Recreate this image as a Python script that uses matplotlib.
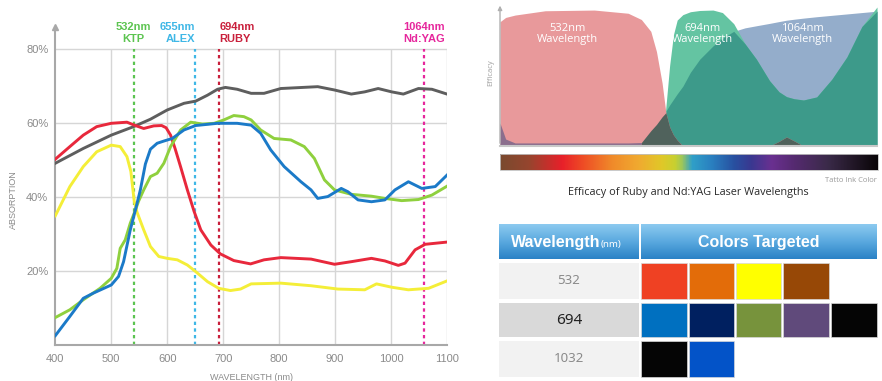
import matplotlib.pyplot as plt
import numpy as np
from matplotlib.colors import LinearSegmentedColormap
from matplotlib.patches import Rectangle

plt.rcParams['font.family'] = ['Liberation Sans', 'DejaVu Sans']

# ---------------------------------------------------------
# DATA - absorption curves (wavelength nm, absorption %)
# ---------------------------------------------------------
gray_nm = [400, 450, 500, 540, 570, 600, 630, 651, 672, 690, 704, 725, 750, 773, 803,
           869, 899, 929, 953, 977, 1001, 1022, 1049, 1073, 1100]
gray_pct = [49.2, 53.2, 56.8, 59.1, 61.1, 63.6, 65.4, 66.0, 67.6, 69.2, 69.7, 69.2, 68.1,
            68.1, 69.4, 69.9, 69.0, 67.9, 68.5, 69.4, 68.5, 67.9, 69.4, 69.2, 67.9]

red_nm = [400, 426, 450, 474, 500, 528, 543, 558, 576, 590, 598, 606, 614, 624, 636, 648,
          660, 678, 695, 719, 749, 773, 803, 857, 899, 929, 965, 989, 1013, 1025, 1043,
          1061, 1100]
red_pct = [50.3, 53.7, 56.8, 59.1, 60.0, 60.3, 59.4, 58.6, 59.3, 59.4, 58.8, 56.8, 53.2,
           48.2, 42.0, 36.2, 31.2, 27.1, 24.7, 22.9, 22.0, 23.1, 23.7, 23.3, 21.9, 22.6,
           23.5, 22.8, 21.6, 22.2, 25.8, 27.3, 27.9]

yellow_nm = [400, 426, 450, 474, 500, 516, 528, 535, 541, 546, 558, 570, 585, 600, 618,
             636, 651, 672, 692, 713, 731, 750, 803, 857, 905, 953, 974, 1001, 1031, 1067, 1100]
yellow_pct = [35.0, 42.9, 48.3, 52.3, 54.1, 53.7, 51.0, 47.0, 39.0, 36.0, 31.2, 26.7, 24.0,
              23.5, 23.1, 21.7, 19.9, 17.2, 15.4, 14.8, 15.2, 16.6, 16.8, 16.1, 15.2, 15.0,
              16.6, 15.7, 15.0, 15.4, 17.4]

blue_nm = [400, 426, 450, 468, 500, 513, 522, 534, 543, 552, 561, 570, 582, 594, 609, 630,
           651, 690, 725, 750, 767, 785, 809, 839, 857, 869, 887, 911, 923, 941, 965, 989,
           1007, 1031, 1055, 1079, 1100]
blue_pct = [2.6, 7.8, 12.7, 14.1, 16.3, 18.6, 22.6, 31.2, 36.5, 42.0, 49.0, 53.0, 54.6,
            55.2, 55.9, 58.2, 59.4, 60.0, 60.0, 59.5, 57.3, 52.8, 48.3, 44.2, 42.0, 39.7,
            40.2, 42.4, 41.5, 39.3, 38.8, 39.3, 42.0, 44.2, 42.4, 42.9, 46.0]

green_nm = [400, 426, 450, 480, 500, 510, 516, 525, 534, 543, 549, 558, 570, 582, 594, 606,
            624, 642, 663, 684, 701, 719, 737, 750, 767, 791, 821, 845, 863, 881, 899, 929,
            965, 989, 1019, 1049, 1073, 1100]
green_pct = [7.5, 9.6, 12.3, 15.4, 18.1, 20.8, 26.2, 28.5, 33.0, 36.5, 39.0, 42.0, 45.6,
             46.5, 49.2, 53.7, 58.2, 60.3, 59.8, 60.0, 60.9, 62.1, 61.8, 60.9, 58.2, 55.9,
             55.5, 53.7, 50.5, 44.7, 42.0, 40.8, 40.3, 39.7, 39.1, 39.4, 40.6, 43.0]

laser_nm = [540, 650, 693, 1059]
laser_names = ['532nm', '655nm', '694nm', '1064nm']
laser_types = ['KTP', 'ALEX', 'RUBY', 'Nd:YAG']

# ---------------------------------------------------------
# DATA - efficacy areas (relative position, relative efficacy)
# ---------------------------------------------------------
eff_x = [0, 1.5, 4, 12, 25, 34, 37.5, 40, 41.5, 43, 44, 45, 46, 47, 48.5, 50.5, 53, 56.5,
         59, 62, 65, 68, 71.5, 74, 76, 78, 80.5, 84, 88, 92, 96, 100]
eff_532 = [89.4, 92.5, 94.2, 97.3, 97.8, 95.5, 91.0, 82.5, 68.0, 45.3, 24.0, 13.7, 8.0, 4.3,
           0, 0, 0, 0, 0, 0, 0, 0, 0, 3.3, 6.5, 3.7, 0, 0, 0, 0, 0, 0]
eff_694 = [0, 0, 0, 0, 0, 0, 0, 0, 0, 0, 28.0, 58.0, 80.0, 90.6, 94.5, 96.6, 97.5, 97.8,
           96.0, 88.0, 73.5, 62.5, 47.0, 39.0, 35.5, 34.0, 33.1, 35.3, 48.0, 64.0, 86.0, 100]
eff_1064 = [16.5, 5.0, 2.2, 2.2, 2.2, 2.2, 2.5, 11.0, 15.5, 21.0, 25.0, 29.5, 33.5, 37.5,
            43.0, 53.0, 62.5, 72.0, 77.5, 82.5, 85.0, 86.5, 88.2, 89.5, 90.5, 91.2, 92.0,
            93.0, 94.0, 95.0, 96.0, 97.0]

ink_pos = [0, 0.075, 0.163, 0.216, 0.296, 0.366, 0.428, 0.463, 0.481, 0.508, 0.56, 0.62,
           0.666, 0.72, 0.78, 0.87, 1.0]
ink_cols = ['#7a4a2e', '#96452e', '#e8202a', '#ee4a25', '#f08a2a', '#f0aa30', '#e0c828',
            '#c8d030', '#a0c858', '#30a0c8', '#2a80c0', '#2850a0', '#3a3890', '#6a3090',
            '#552a70', '#3a2a48', '#0a0508']

# ---------------------------------------------------------
# DATA - table
# ---------------------------------------------------------
table_wl = ['532', '694', '1032']
table_swatches = [
    ['#ef4123', '#e36c09', '#ffff00', '#974806'],
    ['#0070c0', '#002060', '#77933c', '#604a7b', '#050505'],
    ['#050505', '#0353c8'],
]

# ---------------------------------------------------------
# FIGURE
# ---------------------------------------------------------
fig = plt.figure(figsize=(8.82, 3.81), dpi=100)
bg = fig.add_axes([0, 0, 1, 1])
bg.axis('off')

# ---- left: absorption chart ----
ax = fig.add_axes([55.3 / 882, 35.7 / 381, 391.7 / 882, 318.2 / 381])
ax.set_facecolor('none')
ax.set_xlim(400, 1100)
ax.set_ylim(0, 86)
grid_c = '#d6d6d6'
ax.hlines([20, 40, 60, 80], 400, 1100, color=grid_c, lw=1, zorder=1)
ax.vlines(range(500, 1101, 100), 0, 80, color=grid_c, lw=1, zorder=1)

ax.plot(gray_nm, gray_pct, color='#5e5e5e', lw=2.1, zorder=3)
ax.plot(yellow_nm, yellow_pct, color='#f4ee38', lw=2.1, zorder=3)
ax.plot(red_nm, red_pct, color='#e8283c', lw=2.1, zorder=3)
ax.plot(green_nm, green_pct, color='#8fd03e', lw=2.1, zorder=3)
ax.plot(blue_nm, blue_pct, color='#1b7ac8', lw=2.1, zorder=4)

laser_colors = ['#5cc450', '#3fb7e6', '#c9203c', '#e6279c']
laser_ha = ['center', 'right', 'left', 'center']
for nm, name, kind, c, ha in zip(laser_nm, laser_names, laser_types, laser_colors, laser_ha):
    ax.vlines(nm, 0, 80, color=c, lw=1.6, linestyles=(0, (1.5, 1.5)), zorder=2)
    ax.text(nm, 86.1, name, color=c, ha=ha, va='center', fontsize=8, fontweight='bold',
            clip_on=False)
    ax.text(nm, 82.7, kind, color=c, ha=ha, va='center', fontsize=8, fontweight='bold',
            clip_on=False)

for s in ['top', 'right']:
    ax.spines[s].set_visible(False)
for s in ['left', 'bottom']:
    ax.spines[s].set_color('#a8a8a8')
    ax.spines[s].set_linewidth(1.5)
ax.plot(400, 86, marker='^', ms=5, color='#a8a8a8', clip_on=False)
ax.set_xticks(range(400, 1101, 100))
ax.set_yticks([20, 40, 60, 80])
ax.set_yticklabels(['20%', '40%', '60%', '80%'])
ax.tick_params(length=0, labelsize=8, colors='#8a8a8a')
ax.tick_params(axis='x', pad=6)
ax.tick_params(axis='y', pad=5)
ax.set_xlabel('WAVELENGTH (nm)', fontsize=6.5, color='#8a8a8a', labelpad=7)
fig.text(13 / 882, 1 - 200 / 381, 'ABSORPTION', rotation=90, fontsize=6.5,
         color='#8a8a8a', ha='center', va='center')

# ---- right top: efficacy areas ----
ax2 = fig.add_axes([500 / 882, 235 / 381, 377 / 882, 139 / 381])
ax2.set_xlim(0, 100)
ax2.set_ylim(0, 100)
ax2.axis('off')
x = np.array(eff_x)
p = np.array(eff_532)
m = np.array(eff_694)
b = np.array(eff_1064)
ax2.fill_between(x, 0, b, color='#94adcb', lw=0)
ax2.fill_between(x, 0, m, color='#64c4a2', lw=0)
ax2.fill_between(x, 0, np.minimum(m, b), color='#3d9a8a', lw=0)
ax2.fill_between(x, 0, p, color='#e8999b', lw=0)
pb = np.minimum(p, b)
ax2.fill_between(x, 0, pb, where=x <= 37.5, color='#8b6e8d', lw=0)
ax2.fill_between(x, 0, pb, where=x >= 37.5, color='#50625c', lw=0)
ax2.plot([0, 100], [0, 0], color='#c8c8c8', lw=1.5, clip_on=False)
ax2.annotate('', xy=(0, 103), xytext=(0, 0), annotation_clip=False,
             arrowprops=dict(arrowstyle='-|>', color='#b0b0b0', lw=1, mutation_scale=6))
for xc, txt in [(18, '532nm\nWavelength'), (53.8, '694nm\nWavelength'),
                (80.1, '1064nm\nWavelength')]:
    ax2.text(xc, 80.6, txt, color='white', ha='center', va='center', fontsize=8,
             family='Open Sans', linespacing=1.05)
ax2.text(-2.4, 53, 'Efficacy', rotation=90, color='#a0a0a0', fontsize=5.5,
         ha='center', va='center', family='Open Sans')

# ink colour bar
ink_cmap = LinearSegmentedColormap.from_list('ink', list(zip(ink_pos, ink_cols)))
bg.imshow(np.linspace(0, 1, 512)[None, :], cmap=ink_cmap, extent=(500, 878, 170, 154),
          aspect='auto')
bg.add_patch(Rectangle((500, 154), 378, 16, fill=False, ec='#c0c0c0', lw=0.6))
bg.text(877, 180, 'Tatto Ink Color', ha='right', va='center', fontsize=5.5,
        color='#9a9a9a', family='Open Sans')
bg.text(688, 192, 'Efficacy of Ruby and Nd:YAG Laser Wavelengths', ha='center',
        va='center', fontsize=7.8, color='#2a2a2a', family='Open Sans')

# ---- right bottom: table ----
hdr_cmap = LinearSegmentedColormap.from_list('hdr', ['#8ccaf0', '#5aa9df', '#2a82c6'])
grad = np.linspace(0, 1, 64)[:, None]
bg.imshow(grad, cmap=hdr_cmap, extent=(499, 639, 259, 224), aspect='auto')
bg.imshow(grad, cmap=hdr_cmap, extent=(641, 877, 259, 224), aspect='auto')
bg.text(600, 247, 'Wavelength', ha='right', va='baseline', fontsize=11.5,
        fontweight='bold', color='white', family='Liberation Sans')
bg.text(601, 247, '(nm)', ha='left', va='baseline', fontsize=7, color='white',
        family='Noto Sans')
bg.text(759, 242, 'Colors Targeted', ha='center', va='center', fontsize=11.5,
        fontweight='bold', color='white', family='Liberation Sans')

row_y = [(263, 299), (303, 337), (341, 377)]
row_bg = ['#f2f2f2', '#d9d9d9', '#f2f2f2']
row_fc = ['#8a8a8a', '#222222', '#8a8a8a']
row_fs = [9.5, 11, 9.5]
sw_x = [(641, 687), (689, 734), (736, 781), (783, 829), (831, 877)]
for (y0, y1), wl, swc, rbg, fc, fs in zip(row_y, table_wl, table_swatches, row_bg,
                                          row_fc, row_fs):
    bg.add_patch(Rectangle((499, y0), 140, y1 - y0, color=rbg, lw=0))
    bg.text(569, (y0 + y1) / 2, wl, ha='center', va='center', fontsize=fs, color=fc,
            family='Noto Sans')
    for (x0, x1), c in zip(sw_x, swc):
        bg.add_patch(Rectangle((x0, y0), x1 - x0, y1 - y0, fc=c, ec='#d8d8d8', lw=0.5))

bg.set_xlim(0, 882)
bg.set_ylim(381, 0)

fig.savefig('out.png', dpi=100)
